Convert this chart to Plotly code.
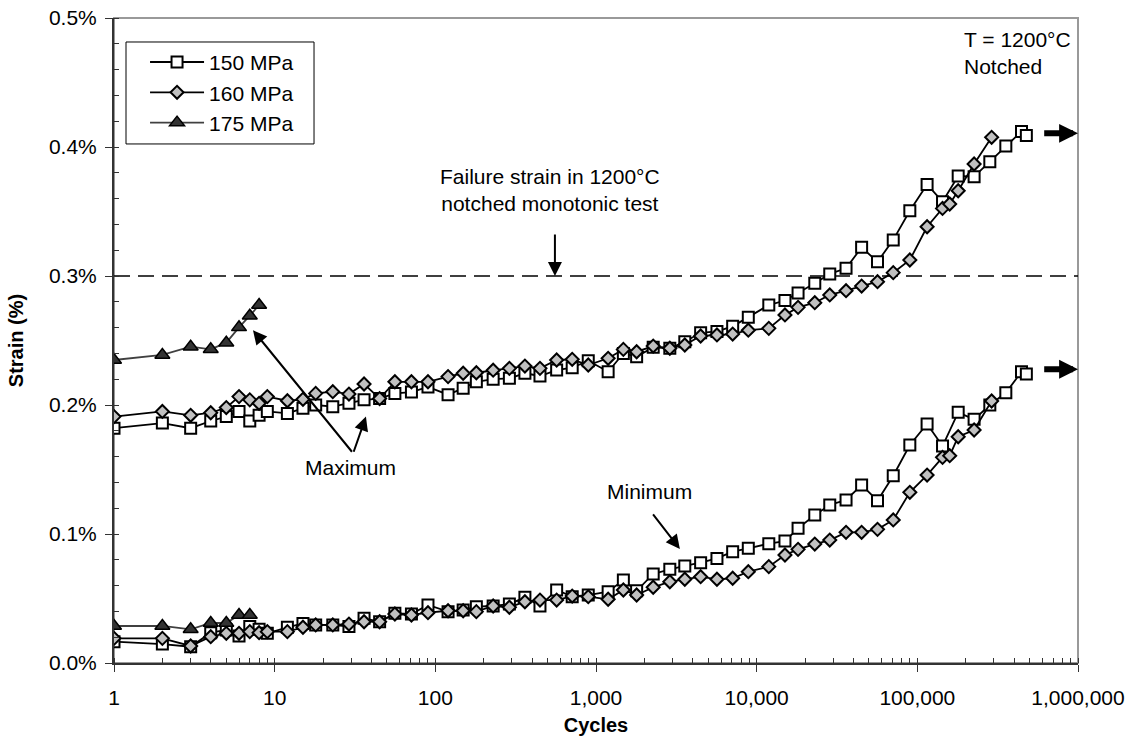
import numpy as np
import plotly.graph_objects as go

# ---------------------------------------------------------------- data
cycles_150 = [1, 2, 3, 4, 5, 6, 7, 8, 9, 12, 15, 18, 23, 29, 36, 45, 56, 71, 90,
              120, 149, 180, 229, 289, 361, 448, 569, 711, 895,
              1190, 1480, 1790, 2270, 2880, 3570, 4480, 5660, 7090, 8870,
              11900, 15000, 18100, 23000, 28500, 36000, 45000, 56500, 70800, 89800,
              115000, 143500, 179600, 225600, 282600, 355500, 445000, 477000]
max_150 = [0.182, 0.186, 0.182, 0.1876, 0.191, 0.195, 0.1876, 0.192, 0.195, 0.1935,
           0.1974, 0.200, 0.1987, 0.2013, 0.204, 0.205, 0.209, 0.210, 0.214,
           0.208, 0.213, 0.218, 0.220, 0.2207, 0.2246, 0.2225, 0.2271, 0.2289, 0.2343,
           0.2258, 0.240, 0.2375, 0.2447, 0.244, 0.249, 0.256, 0.257, 0.261, 0.268,
           0.2775, 0.281, 0.2868, 0.2943, 0.3016, 0.306, 0.3222, 0.311, 0.328, 0.3506,
           0.371, 0.3576, 0.3775, 0.377, 0.3886, 0.4008, 0.412, 0.409]
min_150 = [0.0165, 0.0147, 0.0126, 0.0235, 0.0256, 0.0209, 0.0282, 0.0261, 0.023, 0.0277,
           0.0307, 0.0295, 0.0295, 0.0282, 0.0346, 0.032, 0.0385, 0.038, 0.045,
           0.0398, 0.041, 0.0437, 0.0442, 0.0457, 0.0509, 0.0442, 0.0566, 0.0514, 0.0527,
           0.0553, 0.0643, 0.056, 0.069, 0.0726, 0.0752, 0.0778, 0.0811, 0.0863, 0.0889,
           0.0925, 0.0945, 0.1044, 0.1147, 0.1225, 0.1264, 0.138, 0.1258, 0.1452, 0.169,
           0.1853, 0.1682, 0.1943, 0.1889, 0.200, 0.2095, 0.2258, 0.224]

cycles_160 = [1, 2, 3, 4, 5, 6, 7, 8, 9, 12, 15, 18, 23, 29, 36, 45, 56, 71, 90,
              120, 149, 180, 229, 289, 361, 448, 569, 711, 895,
              1190, 1480, 1790, 2270, 2880, 3570, 4480, 5660, 7090, 8870,
              11900, 15000, 18100, 23000, 28500, 36000, 45000, 56500, 70800, 89800,
              115000, 143500, 159000, 179600, 225600, 290000]
max_160 = [0.191, 0.195, 0.192, 0.194, 0.198, 0.2065, 0.204, 0.2013, 0.2065, 0.2033,
           0.2044, 0.209, 0.2103, 0.2085, 0.2163, 0.205, 0.218, 0.218, 0.218,
           0.222, 0.2246, 0.225, 0.227, 0.2284, 0.2302, 0.2284, 0.2349, 0.2354, 0.231,
           0.2362, 0.2431, 0.2413, 0.2457, 0.244, 0.2465, 0.2535, 0.2543, 0.255, 0.258,
           0.2594, 0.2698, 0.2757, 0.2793, 0.2853, 0.2886, 0.2922, 0.2956, 0.3026, 0.3124,
           0.3382, 0.3524, 0.3558, 0.3661, 0.3868, 0.4075]
min_160 = [0.0191, 0.0191, 0.0132, 0.0204, 0.023, 0.023, 0.0243, 0.0235, 0.0243, 0.0243,
           0.0277, 0.0295, 0.0295, 0.0302, 0.032, 0.032, 0.038, 0.0372, 0.039,
           0.0405, 0.0405, 0.0398, 0.0442, 0.0432, 0.0475, 0.0488, 0.0488, 0.0519, 0.0514,
           0.0494, 0.0566, 0.0527, 0.0587, 0.063, 0.0649, 0.0669, 0.0649, 0.0657, 0.0708,
           0.0747, 0.0837, 0.0881, 0.0922, 0.0953, 0.1013, 0.1013, 0.1036, 0.1109, 0.1323,
           0.1457, 0.1594, 0.1607, 0.1754, 0.1806, 0.2031]

cycles_175_max = [1, 2, 3, 4, 5, 6, 7, 8]
max_175 = [0.2349, 0.2388, 0.2452, 0.2432, 0.2483, 0.2602, 0.2692, 0.2775]
cycles_175_min = [1, 2, 3, 4, 5, 6, 7]
min_175 = [0.0287, 0.0287, 0.0261, 0.031, 0.031, 0.0372, 0.0372]

failure_strain = 0.30  # 1200°C notched monotonic test

x_tickvals = [1, 10, 100, 1000, 10000, 100000, 1000000]
x_ticktext = ["1", "10", "100", "1,000", "10,000", "100,000", "1,000,000"]
y_tickvals = [0.0, 0.1, 0.2, 0.3, 0.4, 0.5]
y_ticktext = ["0.0%", "0.1%", "0.2%", "0.3%", "0.4%", "0.5%"]

# ---------------------------------------------------------------- style
FONT = "Liberation Sans, Arial, Helvetica, sans-serif"
FS = 21
AXIS_DARK = "#333333"
FRAME_GRAY = "#999999"

fig = go.Figure()


def add_series(x, y, name, symbol, fill, size, line_color, outline, show):
    fig.add_trace(go.Scatter(
        x=x, y=y, mode="lines+markers", name=name, legendgroup=name,
        showlegend=show,
        line=dict(color=line_color, width=1.8),
        marker=dict(symbol=symbol, size=size, color=fill,
                    line=dict(color="black", width=outline)),
    ))


add_series(cycles_150, max_150, "150 MPa", "square", "white", 11, "black", 2, True)
add_series(cycles_150, min_150, "150 MPa", "square", "white", 11, "black", 2, False)
add_series(cycles_160, max_160, "160 MPa", "diamond", "#c0c0c0", 10, "black", 2, True)
add_series(cycles_160, min_160, "160 MPa", "diamond", "#c0c0c0", 10, "black", 2, False)
add_series(cycles_175_max, max_175, "175 MPa", "triangle-up", "#333333", 13, "#404040", 1.5, True)
add_series(cycles_175_min, min_175, "175 MPa", "triangle-up", "#333333", 13, "#404040", 1.5, False)

lg = np.log10

# plot frame (top/right edges light gray), legend box and failure-strain line
fig.add_shape(type="rect", xref="x domain", yref="y domain", x0=0, x1=1, y0=0, y1=1,
              line=dict(color=FRAME_GRAY, width=2), layer="below")
fig.add_shape(type="rect", xref="x domain", yref="y domain",
              x0=0.01245, x1=0.2075, y0=0.8047, y1=0.9628,
              line=dict(color="black", width=1), fillcolor="white", layer="below")
fig.add_shape(type="line", xref="x domain", yref="y", x0=0, x1=1,
              y0=failure_strain, y1=failure_strain,
              line=dict(color="black", width=1.4, dash="16px,8px"), layer="below")

annotations = []


def arrow(tip, tail, width=2, size=1.4):
    annotations.append(dict(
        x=lg(tip[0]), y=tip[1], ax=lg(tail[0]), ay=tail[1],
        xref="x", yref="y", axref="x", ayref="y", text="",
        showarrow=True, arrowhead=2, arrowwidth=width, arrowsize=size,
        arrowcolor="black"))


def label(x, y, text, xanchor="center", align="center"):
    annotations.append(dict(
        x=lg(x), y=y, xref="x", yref="y", text=text, showarrow=False,
        xanchor=xanchor, yanchor="middle", align=align,
        font=dict(family=FONT, size=FS, color="black")))


label(517, 0.3667, "Failure strain in 1200°C<br>notched monotonic test")
arrow((555, failure_strain), (555, 0.3333))
label(189000, 0.4725, "T = 1200°C<br>Notched", xanchor="left", align="left")
label(29.8, 0.1512, "Maximum")
arrow((7.33, 0.258), (30.8, 0.1626))
arrow((37.0, 0.191), (30.8, 0.1626))
label(2163, 0.1333, "Minimum")
arrow((3327, 0.0884), (2228, 0.1163))
# run-out arrows (tests continuing beyond the last point)
arrow((1e6, 0.4106), (603000, 0.4106), width=6, size=0.63)
arrow((1e6, 0.2277), (603000, 0.2277), width=6, size=0.63)

fig.update_layout(
    width=1133, height=738,
    margin=dict(l=114, r=55, t=18, b=75, autoexpand=False),
    paper_bgcolor="white", plot_bgcolor="white",
    font=dict(family=FONT, size=FS, color="black"),
    showlegend=True,
    legend=dict(x=0.0322, y=0.963, xanchor="left", yanchor="top",
                bgcolor="rgba(0,0,0,0)", borderwidth=0,
                font=dict(family=FONT, size=FS), itemwidth=54,
                tracegroupgap=0),
    annotations=annotations,
    xaxis=dict(
        type="log", range=[0, 6], showgrid=False, zeroline=False,
        showline=True, linecolor=AXIS_DARK, linewidth=2,
        tickvals=x_tickvals, ticktext=x_ticktext,
        ticks="outside", ticklen=7, tickwidth=1, tickcolor=AXIS_DARK,
        tickfont=dict(family=FONT, size=FS), ticklabelstandoff=8,
        minor=dict(ticks="inside", ticklen=5, tickwidth=1, tickcolor=AXIS_DARK,
                   dtick="D1", showgrid=False),
        title=dict(text="<b>Cycles</b>", font=dict(family=FONT, size=20), standoff=10),
    ),
    yaxis=dict(
        range=[0, 0.5], showgrid=False, zeroline=False,
        showline=True, linecolor=AXIS_DARK, linewidth=2,
        tickvals=y_tickvals, ticktext=y_ticktext,
        ticks="outside", ticklen=7, tickwidth=1, tickcolor=AXIS_DARK,
        tickfont=dict(family=FONT, size=FS), ticklabelstandoff=4,
        minor=dict(ticks="inside", ticklen=5, tickwidth=1, tickcolor=AXIS_DARK,
                   dtick=0.02, showgrid=False),
        title=dict(text="<b>Strain (%)</b>", font=dict(family=FONT, size=20), standoff=20),
    ),
    # companion axes that add the inner half of the major tick marks
    xaxis2=dict(type="log", range=[0, 6], overlaying="x", anchor="y", side="bottom",
                showgrid=False, zeroline=False, showline=False, showticklabels=False,
                tickvals=x_tickvals, ticks="inside", ticklen=7, tickwidth=1,
                tickcolor=AXIS_DARK),
    yaxis2=dict(range=[0, 0.5], overlaying="y", anchor="x", side="left",
                showgrid=False, zeroline=False, showline=False, showticklabels=False,
                tickvals=y_tickvals, ticks="inside", ticklen=7, tickwidth=1,
                tickcolor=AXIS_DARK),
)

fig.write_html("out.html")
